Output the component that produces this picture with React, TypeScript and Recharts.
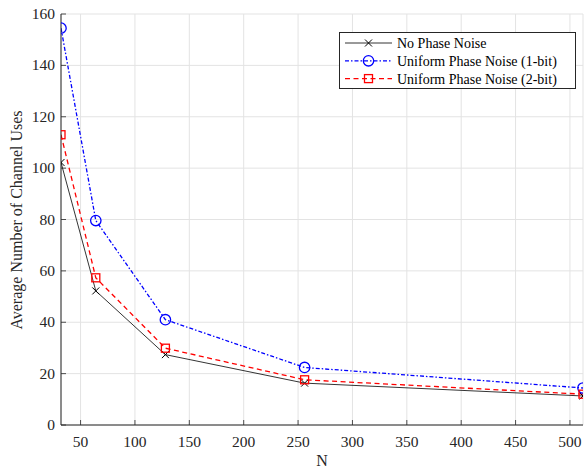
import React from "react";
import {
  LineChart,
  Line,
  XAxis,
  YAxis,
  CartesianGrid,
  Legend,
  Label
} from "recharts";

// N values on the x axis
const nValues = [32, 64, 128, 256, 512];
// average number of channel uses
const noPhaseNoise = [102.2, 52.2, 27.4, 16.3, 11.3];
const uniform1bit = [154.5, 79.6, 41.0, 22.4, 14.4];
const uniform2bit = [113.0, 57.3, 29.9, 17.6, 12.0];

const xTicks = [50, 100, 150, 200, 250, 300, 350, 400, 450, 500];
const yTicks = [0, 20, 40, 60, 80, 100, 120, 140, 160];

const seriesNames = [
  "No Phase Noise",
  "Uniform Phase Noise (1-bit)",
  "Uniform Phase Noise (2-bit)"
];

const data = nValues.map((n, i) => ({
  n,
  none: noPhaseNoise[i],
  oneBit: uniform1bit[i],
  twoBit: uniform2bit[i]
}));

const FONT = "'Liberation Serif', 'Times New Roman', serif";
const AXIS = "#262626";
const TICK_LEN = 5;
const textStyle = { fontFamily: FONT, fontSize: 15.5, fill: AXIS };

const Cross = ({ cx, cy }: any) => (
  <g>
    <line x1={cx - 3.5} y1={cy - 3.5} x2={cx + 3.5} y2={cy + 3.5} stroke="#000" strokeWidth={1} />
    <line x1={cx - 3.5} y1={cy + 3.5} x2={cx + 3.5} y2={cy - 3.5} stroke="#000" strokeWidth={1} />
  </g>
);

const Circle = ({ cx, cy }: any) => (
  <circle cx={cx} cy={cy} r={5.2} fill="none" stroke="#0000ff" strokeWidth={1.3} />
);

const Square = ({ cx, cy }: any) => (
  <rect x={cx - 4} y={cy - 4} width={8} height={8} fill="none" stroke="#ff0000" strokeWidth={1.3} />
);

const BottomTick = ({ x, y, payload }: any) => (
  <g>
    <line x1={x} x2={x} y1={y} y2={y - TICK_LEN} stroke={AXIS} strokeWidth={0.8} />
    <text x={x} y={y + 22} textAnchor="middle" style={textStyle}>
      {payload.value}
    </text>
  </g>
);

const LeftTick = ({ x, y, payload }: any) => (
  <g>
    <line x1={x} x2={x + TICK_LEN} y1={y} y2={y} stroke={AXIS} strokeWidth={0.8} />
    <text x={x - 6} y={y + 5} textAnchor="end" style={textStyle}>
      {payload.value}
    </text>
  </g>
);

const TopTick = ({ x, y }: any) => (
  <line x1={x} x2={x} y1={y} y2={y + TICK_LEN} stroke={AXIS} strokeWidth={0.8} />
);

const RightTick = ({ x, y }: any) => (
  <line x1={x} x2={x - TICK_LEN} y1={y} y2={y} stroke={AXIS} strokeWidth={0.8} />
);

const legendStyles = [
  { color: "#000", dash: undefined, width: 0.8, Marker: Cross },
  { color: "#0000ff", dash: "4 2 1.5 2", width: 1.3, Marker: Circle },
  { color: "#ff0000", dash: "5 3.5", width: 1.3, Marker: Square }
];

const LegendBox = () => (
  <svg width={237} height={57}>
    <rect x={0.5} y={0.5} width={236} height={56} fill="#fff" stroke={AXIS} strokeWidth={1} />
    {seriesNames.map((name, i) => {
      const s = legendStyles[i];
      const cy = 11 + i * 17.8;
      return (
        <g key={name}>
          <line x1={6} x2={53} y1={cy} y2={cy} stroke={s.color} strokeWidth={s.width} strokeDasharray={s.dash} />
          <s.Marker cx={29.5} cy={cy} />
          <text x={58} y={cy + 5} style={{ fontFamily: FONT, fontSize: 14, fill: "#000" }}>
            {name}
          </text>
        </g>
      );
    })}
  </svg>
);

const App = () => {
  return (
    <div style={{ position: "absolute", left: 0, top: 0, background: "#fff" }}>
      <LineChart
        width={586}
        height={468}
        data={data}
        margin={{ top: 14, right: 3, bottom: 0, left: 0 }}
      >
        <CartesianGrid
          xAxisId="bottom"
          yAxisId="left"
          stroke="#e3e3e3"
          strokeWidth={1}
        />
        <XAxis
          xAxisId="bottom"
          dataKey="n"
          type="number"
          domain={[32, 512]}
          ticks={xTicks}
          allowDataOverflow
          height={43}
          tickSize={0}
          tickMargin={0}
          tickLine={false}
          tick={<BottomTick />}
          interval={0}
          axisLine={{ stroke: AXIS, strokeWidth: 1 }}
        >
          <Label
            content={() => (
              <text x={322} y={466} textAnchor="middle" style={{ fontFamily: FONT, fontSize: 16, fill: AXIS }}>
                N
              </text>
            )}
          />
        </XAxis>
        <XAxis
          xAxisId="top"
          orientation="top"
          dataKey="n"
          type="number"
          domain={[32, 512]}
          ticks={xTicks}
          allowDataOverflow
          height={0}
          tickSize={0}
          tickMargin={0}
          tickLine={false}
          tick={<TopTick />}
          interval={0}
          axisLine={{ stroke: AXIS, strokeWidth: 1 }}
        />
        <YAxis
          yAxisId="left"
          type="number"
          domain={[0, 160]}
          ticks={yTicks}
          allowDataOverflow
          width={61}
          tickSize={0}
          tickMargin={0}
          tickLine={false}
          tick={<LeftTick />}
          interval={0}
          axisLine={{ stroke: AXIS, strokeWidth: 1 }}
        >
          <Label
            content={() => (
              <text
                transform="translate(22,220) rotate(-90)"
                textAnchor="middle"
                style={{ fontFamily: FONT, fontSize: 16, fill: AXIS }}
              >
                Average Number of Channel Uses
              </text>
            )}
          />
        </YAxis>
        <YAxis
          yAxisId="right"
          orientation="right"
          type="number"
          domain={[0, 160]}
          ticks={yTicks}
          allowDataOverflow
          width={0}
          tickSize={0}
          tickMargin={0}
          tickLine={false}
          tick={<RightTick />}
          interval={0}
          axisLine={{ stroke: AXIS, strokeWidth: 1 }}
        />
        <Line
          xAxisId="bottom"
          yAxisId="left"
          dataKey="none"
          name={seriesNames[0]}
          stroke="#000"
          strokeWidth={0.8}
          dot={(p: any) => <Cross key={p.index} cx={p.cx} cy={p.cy} />}
          activeDot={false}
          isAnimationActive={false}
        />
        <Line
          xAxisId="bottom"
          yAxisId="left"
          dataKey="oneBit"
          name={seriesNames[1]}
          stroke="#0000ff"
          strokeWidth={1.3}
          strokeDasharray="4 2 1.5 2"
          dot={(p: any) => <Circle key={p.index} cx={p.cx} cy={p.cy} />}
          activeDot={false}
          isAnimationActive={false}
        />
        <Line
          xAxisId="bottom"
          yAxisId="left"
          dataKey="twoBit"
          name={seriesNames[2]}
          stroke="#ff0000"
          strokeWidth={1.3}
          strokeDasharray="5 3.5"
          dot={(p: any) => <Square key={p.index} cx={p.cx} cy={p.cy} />}
          activeDot={false}
          isAnimationActive={false}
        />
        <Legend
          layout="vertical"
          align="center"
          verticalAlign="middle"
          content={() => <LegendBox />}
          wrapperStyle={{ position: "absolute", left: 339, top: 32, width: 237, height: 57 }}
        />
      </LineChart>
    </div>
  );
};

export default App;
